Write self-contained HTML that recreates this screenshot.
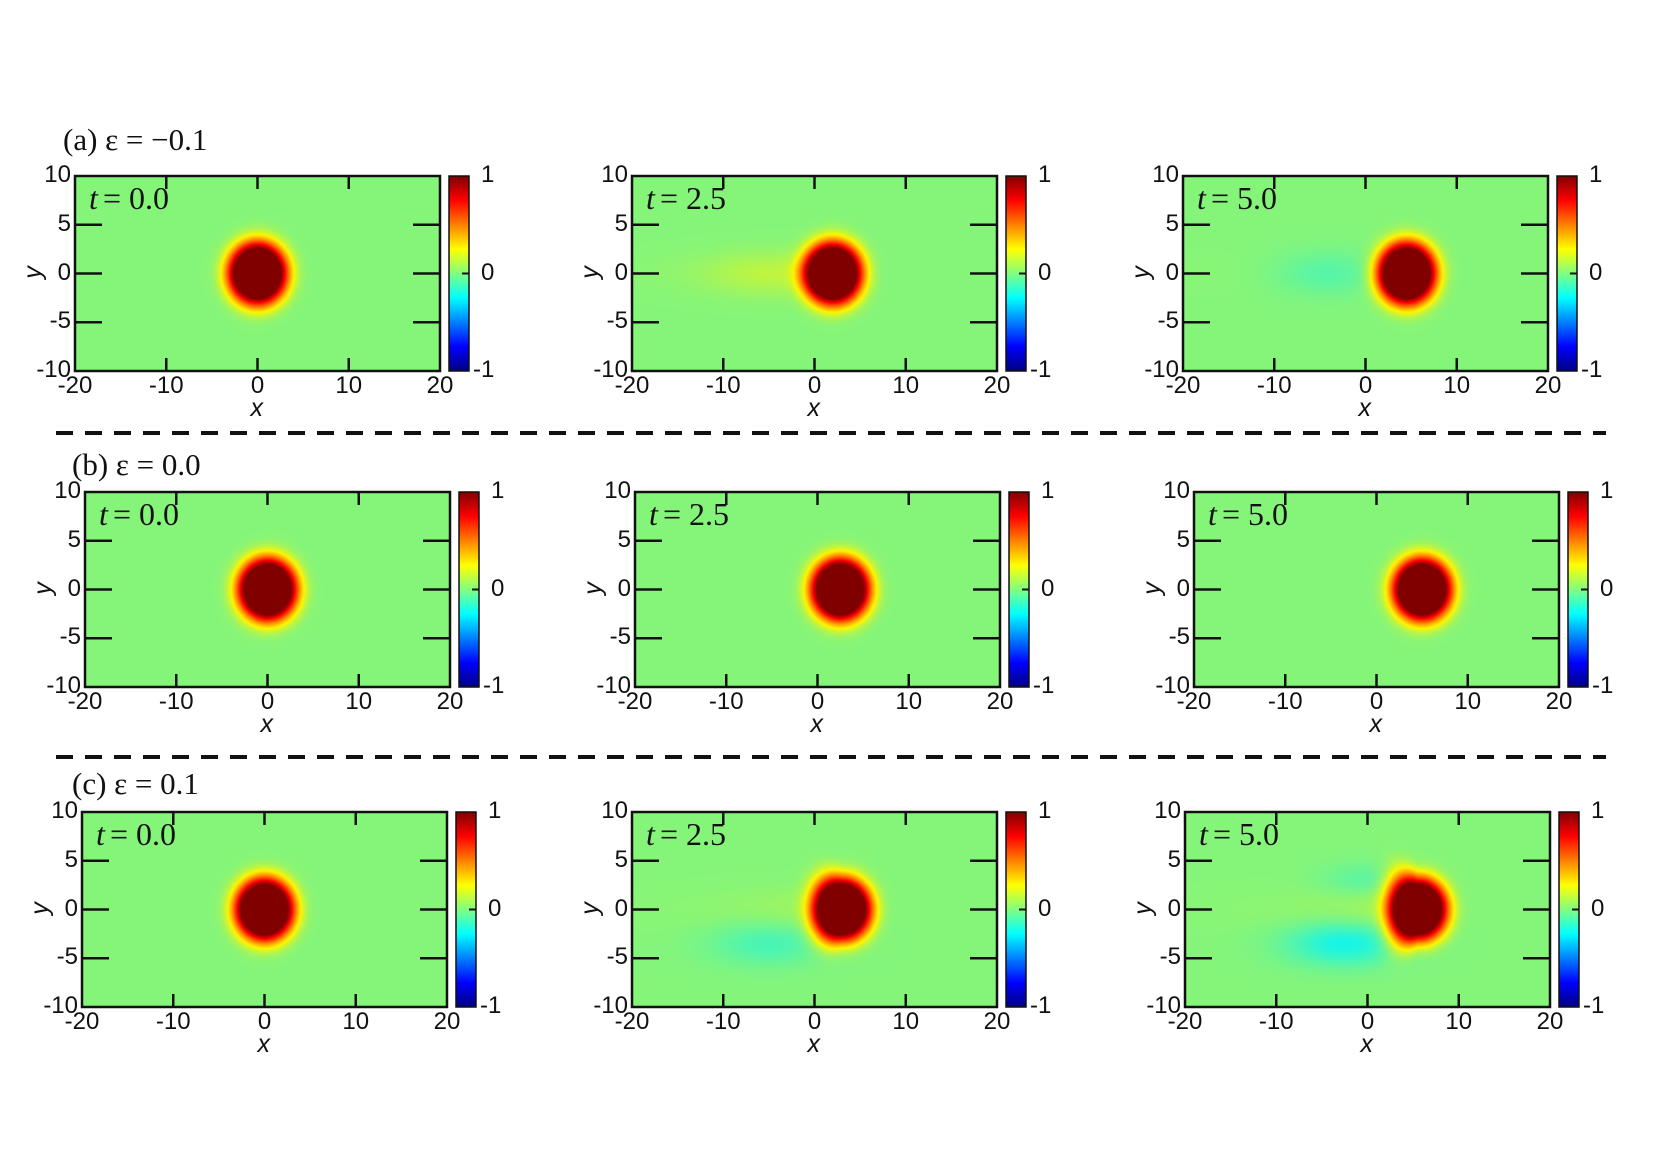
<!DOCTYPE html>
<html><head><meta charset="utf-8"><style>
html,body{margin:0;padding:0;background:#fff;}
#root{position:relative;width:1660px;height:1174px;overflow:hidden;background:#fff;font-family:"Liberation Sans",sans-serif;}
.t{position:absolute;white-space:nowrap;color:#111;}
</style></head><body>
<div id="root"></div>
<script>
// Data
const rowLabels = ["(a) ε = −0.1", "(b) ε = 0.0", "(c) ε = 0.1"];
const timeLabels = ["t = 0.0", "t = 2.5", "t = 5.0"];
const blobX = [[0, 2, 4.5], [0, 2.5, 5], [0, 3, 5.5]];
const blobY = [[0, 0, 0], [0, 0, 0], [0, 0, 0]];
const wakeAmp = [[0, 0.06, -0.12], [0, 0, 0], [0, -0.12, -0.22]];
const tailAmp = [[0, 0.12, 0.08], [0, 0, 0], [0, 0.1, 0.12]];
const xTicks = [-20, -10, 0, 10, 20];
const yTicks = [-10, -5, 0, 5, 10];
const cbTicks = [-1, 0, 1];

// Layout
const rowTop = [176, 492, 812];
const colLeft = [[75, 632, 1183], [85, 635, 1194], [82, 632, 1185]];
const titlePos = [[63, 153], [72, 478], [72, 797]];
const PW = 365, PH = 195;
const root = document.getElementById('root');

function jet(t){
  t = Math.max(0, Math.min(1, t));
  const r = Math.max(0, Math.min(1, 1.5 - Math.abs(4*t - 3)));
  const g = Math.max(0, Math.min(1, 1.5 - Math.abs(4*t - 2)));
  const b = Math.max(0, Math.min(1, 1.5 - Math.abs(4*t - 1)));
  return [r*255, g*255, b*255];
}
function text(str, x, y, size, cls, extra){
  const d = document.createElement('div');
  d.className = 't';
  d.textContent = str;
  d.style.left = x + 'px'; d.style.top = y + 'px'; d.style.fontSize = size + 'px';
  if (extra) Object.assign(d.style, extra);
  
  
  root.appendChild(d);
  return d;
}
function field(r, c, x, y){
  const cx = blobX[r][c], cy = blobY[r][c];
  const dx = x - cx, dy = y - cy;
  const tri = (r === 2 && c > 0) ? 1 + 0.06 * Math.max(0, -dx) * (c) : 1;
  const d = Math.sqrt(dx*dx + (dy*dy)/(tri*tri));
  let v = 0.01 + 1.7 * Math.exp(-Math.pow(d / 3.2, 3));
  if (dx < 0) v += tailAmp[r][c] * Math.exp(-(dy*dy)/5) * Math.exp(dx/9) * (1 - Math.exp(-dx*dx/12));
  const wx = dx + 8, wy = dy + (r === 2 ? 3.5 : 0);
  v += wakeAmp[r][c] * Math.exp(-(wx*wx)/40 - (wy*wy)/5);
  if (r === 2 && c === 2) { const ux = dx + 6, uy = dy - 3; v -= 0.08 * Math.exp(-(ux*ux)/20 - (uy*uy)/3); }
  return Math.min(1, v);
}
function xs(v, L){ return L + (v + 20) / 40 * PW; }
function ys(v, T){ return T + (10 - v) / 20 * PH; }

for (let r = 0; r < 3; r++){
  text(rowLabels[r], titlePos[r][0], titlePos[r][1] - 31, 31, 'row-title', {fontFamily:'"Liberation Serif",serif'});
  for (let c = 0; c < 3; c++){
    const L = colLeft[r][c], T = rowTop[r];
    const cv = document.createElement('canvas');
    cv.width = PW; cv.height = PH;
    cv.style.position = 'absolute'; cv.style.left = L + 'px'; cv.style.top = T + 'px';
    
    
    root.appendChild(cv);
    const ctx = cv.getContext('2d');
    const img = ctx.createImageData(PW, PH);
    for (let j = 0; j < PH; j++) for (let i = 0; i < PW; i++){
      const x = -20 + (i + 0.5) / PW * 40, y = 10 - (j + 0.5) / PH * 20;
      const col = jet((field(r, c, x, y) + 1) / 2);
      const k = (j*PW + i)*4;
      img.data[k] = col[0]; img.data[k+1] = col[1]*0.96; img.data[k+2] = col[2]; img.data[k+3] = 255;
    }
    ctx.putImageData(img, 0, 0);
    const NS = 'http://www.w3.org/2000/svg';
    const svg = document.createElementNS(NS, 'svg');
    svg.setAttribute('width', 1660); svg.setAttribute('height', 1174);
    svg.style.position = 'absolute'; svg.style.left = '0'; svg.style.top = '0';
    
    
    let s = `<rect x="${L}" y="${T}" width="${PW}" height="${PH}" fill="none" stroke="#111" stroke-width="2.5"/>`;
    xTicks.forEach(v => { if (Math.abs(v) < 20){ const X = xs(v, L); s += `<line x1="${X}" x2="${X}" y1="${T}" y2="${T+13}" stroke="#111" stroke-width="2.5"/><line x1="${X}" x2="${X}" y1="${T+PH}" y2="${T+PH-13}" stroke="#111" stroke-width="2.5"/>`; } });
    yTicks.forEach(v => { if (Math.abs(v) < 10){ const Y = ys(v, T); s += `<line x1="${L}" x2="${L+27}" y1="${Y}" y2="${Y}" stroke="#111" stroke-width="2.5"/><line x1="${L+PW}" x2="${L+PW-27}" y1="${Y}" y2="${Y}" stroke="#111" stroke-width="2.5"/>`; } });
    const CL = L + PW + 9, CW = 20;
    s += `<defs><linearGradient id="jet${r}${c}" x1="0" y1="1" x2="0" y2="0">`;
    for (let k = 0; k <= 8; k++){ const cc = jet(k/8); s += `<stop offset="${k/8}" stop-color="rgb(${cc.map(Math.round).join(',')})"/>`; }
    s += `</linearGradient></defs><rect x="${CL}" y="${T}" width="${CW}" height="${PH}" fill="url(#jet${r}${c})" stroke="#111" stroke-width="1.5"/>`;
    s += `<line x1="${CL+CW-7}" x2="${CL+CW}" y1="${T+PH/2}" y2="${T+PH/2}" stroke="#111" stroke-width="2"/>`;
    svg.innerHTML = s;
    root.appendChild(svg);
    xTicks.forEach(v => { text(String(v), xs(v, L) - 30, T + PH + 1, 24, 'x-tick-label', {width:'60px', textAlign:'center'}); });
    yTicks.forEach(v => { text(String(v), L - 64, ys(v, T) - 15, 24, 'y-tick-label', {width:'60px', textAlign:'right'}); });
    cbTicks.forEach(v => { text(String(v), CL + CW + (v < 0 ? 4 : 12), T + (1 - v) / 2 * PH - 15, 24, 'colorbar-tick-label'); });
    text('x', L + PW/2 - 7, T + PH + 23, 25, 'x-axis-title', {fontStyle:'italic'});
    text('y', L - 48, ys(0, T) - 16, 25, 'y-axis-title', {fontStyle:'italic', transform:'rotate(-90deg)'});
    text(timeLabels[c].replace('t', ''), L + 28, T + 4, 32, 'time-label', {fontFamily:'"Liberation Serif",serif'});
    text('t', L + 14, T + 4, 32, 'time-label-t', {fontFamily:'"Liberation Serif",serif', fontStyle:'italic'});
  }
}
[433, 757].forEach(Y => {
  const d = document.createElement('div');
  d.style.cssText = `position:absolute;left:56px;top:${Y-2}px;width:1550px;height:4px;background:repeating-linear-gradient(90deg,#111 0 17px,transparent 17px 29px);`;
  
  
  root.appendChild(d);
});
</script>
</body></html>
